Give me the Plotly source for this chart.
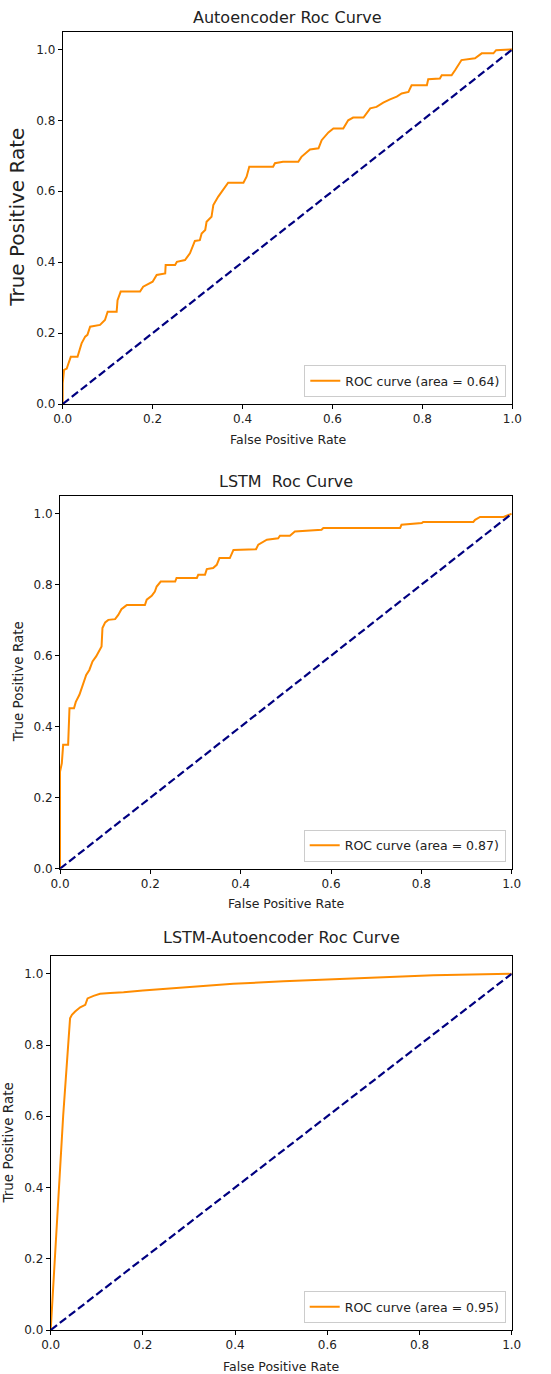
import plotly.graph_objects as go

# ---------------- data ----------------
titles = ["Autoencoder Roc Curve", "LSTM  Roc Curve", "LSTM-Autoencoder Roc Curve"]
auc_values = [0.64, 0.87, 0.95]

ae_fpr = [0, 0, 0.003, 0.009, 0.013, 0.018, 0.033, 0.037, 0.042, 0.05, 0.055, 0.061, 0.083, 0.094,
          0.1, 0.12, 0.122, 0.129, 0.172, 0.179, 0.2, 0.209, 0.228, 0.229, 0.25, 0.254, 0.272,
          0.283, 0.287, 0.294, 0.305, 0.309, 0.317, 0.32, 0.331, 0.335, 0.346, 0.357, 0.368,
          0.402, 0.409, 0.415, 0.468, 0.472, 0.49, 0.524, 0.531, 0.55, 0.569, 0.576, 0.591,
          0.602, 0.624, 0.635, 0.646, 0.669, 0.684, 0.698, 0.713, 0.728, 0.743, 0.754, 0.769,
          0.776, 0.81, 0.813, 0.839, 0.843, 0.865, 0.873, 0.887, 0.917, 0.932, 0.958, 0.964, 1.0]
ae_tpr = [0, 0.058, 0.096, 0.1, 0.115, 0.133, 0.133, 0.152, 0.171, 0.19, 0.195, 0.218, 0.223, 0.237,
          0.26, 0.26, 0.293, 0.317, 0.317, 0.331, 0.345, 0.364, 0.368, 0.392, 0.392, 0.401, 0.406,
          0.425, 0.439, 0.46, 0.462, 0.481, 0.491, 0.514, 0.528, 0.561, 0.585, 0.603, 0.624,
          0.624, 0.641, 0.669, 0.669, 0.679, 0.683, 0.683, 0.697, 0.718, 0.721, 0.744, 0.766,
          0.777, 0.777, 0.8, 0.808, 0.808, 0.834, 0.838, 0.85, 0.859, 0.867, 0.876, 0.88,
          0.899, 0.899, 0.916, 0.918, 0.927, 0.927, 0.942, 0.97, 0.975, 0.989, 0.989, 0.998, 1.0]

lstm_fpr = [0, 0, 0.004, 0.007, 0.018, 0.021, 0.031, 0.035, 0.043, 0.048, 0.052, 0.058, 0.065,
            0.072, 0.08, 0.089, 0.092, 0.094, 0.1, 0.107, 0.122, 0.129, 0.136, 0.144, 0.148,
            0.188, 0.192, 0.203, 0.21, 0.214, 0.223, 0.255, 0.258, 0.303, 0.306, 0.321, 0.325,
            0.339, 0.347, 0.353, 0.376, 0.384, 0.434, 0.439, 0.446, 0.458, 0.483, 0.487, 0.509,
            0.52, 0.579, 0.583, 0.753, 0.756, 0.801, 0.804, 0.915, 0.919, 0.93, 0.982, 1.0]
lstm_tpr = [0, 0.273, 0.297, 0.349, 0.349, 0.452, 0.452, 0.47, 0.49, 0.508, 0.527, 0.546, 0.56,
            0.584, 0.598, 0.617, 0.626, 0.678, 0.694, 0.701, 0.703, 0.715, 0.731, 0.739, 0.743,
            0.743, 0.758, 0.769, 0.781, 0.795, 0.809, 0.809, 0.819, 0.819, 0.828, 0.828, 0.844,
            0.847, 0.856, 0.875, 0.875, 0.898, 0.9, 0.913, 0.919, 0.927, 0.931, 0.938, 0.938,
            0.95, 0.955, 0.96, 0.96, 0.969, 0.974, 0.977, 0.977, 0.983, 0.991, 0.991, 1.0]

lae_fpr = [0, 0.009, 0.027, 0.042, 0.046, 0.053, 0.064, 0.075, 0.08, 0.093, 0.107, 0.129, 0.158,
           0.2, 0.273, 0.324, 0.396, 0.505, 0.613, 0.722, 0.83, 1.0]
lae_tpr = [0, 0.197, 0.6, 0.875, 0.885, 0.894, 0.906, 0.913, 0.931, 0.938, 0.944, 0.946, 0.948,
           0.953, 0.96, 0.966, 0.972, 0.979, 0.985, 0.99, 0.996, 1.0]

chance = [0, 1]
tick_vals = [0, 0.2, 0.4, 0.6, 0.8, 1.0]
tick_text = ["0.0", "0.2", "0.4", "0.6", "0.8", "1.0"]

curves = [(ae_fpr, ae_tpr), (lstm_fpr, lstm_tpr), (lae_fpr, lae_tpr)]

# ---------------- layout geometry (pixels) ----------------
W, H = 551, 1374
# (left, right, top, bottom) of each axes box in pixels
boxes = [(62.7, 512.3, 31.7, 404.0),
         (60.0, 511.7, 496.0, 868.7),
         (50.7, 511.7, 956.0, 1330.0)]
title_y = [17, 481, 937]
xlabel_y = [439, 903, 1366]
ylabel_x = [17, 18, 7.5]
ylabel_size = [20, 13.5, 13.5]

FONT = "DejaVu Sans"
ORANGE = "#FF8C00"
NAVY = "#000080"
TXT = "#222222"


def px(x):
    return x / W


def py(y):
    return 1 - y / H


fig = go.Figure()
annotations = []
for i, ((fpr, tpr), (l, r, t, b)) in enumerate(zip(curves, boxes)):
    n = i + 1
    xa = "x" if n == 1 else f"x{n}"
    ya = "y" if n == 1 else f"y{n}"
    lg = "legend" if n == 1 else f"legend{n}"
    fig.add_trace(go.Scatter(x=fpr, y=tpr, mode="lines", xaxis=xa, yaxis=ya,
                             line=dict(color=ORANGE, width=2),
                             name=f"ROC curve (area = {auc_values[i]:.2f})",
                             legend=lg, showlegend=True))
    fig.add_trace(go.Scatter(x=chance, y=chance, mode="lines", xaxis=xa, yaxis=ya,
                             line=dict(color=NAVY, width=2.2, dash="8px,3.5px"),
                             showlegend=False))
    axis_common = dict(showline=True, mirror=True, linecolor="black", linewidth=1,
                       ticks="outside", ticklen=4, tickwidth=1, tickcolor="black",
                       showgrid=False, zeroline=False, automargin=False,
                       tickvals=tick_vals, ticktext=tick_text,
                       tickfont=dict(family=FONT, size=12, color=TXT))
    fig.layout[f"xaxis{'' if n == 1 else n}"] = dict(
        domain=[px(l), px(r)], anchor=ya, range=[0, 1], **axis_common)
    fig.layout[f"yaxis{'' if n == 1 else n}"] = dict(
        domain=[py(b), py(t)], anchor=xa, range=[0, 1.05], **axis_common)
    fig.layout[lg] = dict(x=px(r - 6), y=py(b - 7), xanchor="right", yanchor="bottom",
                          bgcolor="white", bordercolor="#cccccc", borderwidth=1,
                          font=dict(family=FONT, size=12.5, color=TXT))
    cx = (l + r) / 2
    annotations.append(dict(text=titles[i], x=px(cx), y=py(title_y[i]), xref="paper", yref="paper",
                            xanchor="center", yanchor="middle", showarrow=False,
                            font=dict(family=FONT, size=16, color=TXT)))
    annotations.append(dict(text="False Positive Rate", x=px(cx), y=py(xlabel_y[i]),
                            xref="paper", yref="paper", xanchor="center", yanchor="middle",
                            showarrow=False, font=dict(family=FONT, size=12.5, color=TXT)))
    annotations.append(dict(text="True Positive Rate", x=px(ylabel_x[i]), y=py((t + b) / 2),
                            xref="paper", yref="paper", xanchor="center", yanchor="middle",
                            textangle=-90, showarrow=False,
                            font=dict(family=FONT, size=ylabel_size[i], color=TXT)))

fig.update_layout(template="none", width=W, height=H, margin=dict(l=0, r=0, t=0, b=0, autoexpand=False),
                  paper_bgcolor="white", plot_bgcolor="white", hovermode=False,
                  annotations=annotations, font=dict(family=FONT))
fig.write_html("out.html", config={"displayModeBar": False, "staticPlot": True},
               post_script="document.body.style.margin='0';document.body.style.overflow='hidden';")
